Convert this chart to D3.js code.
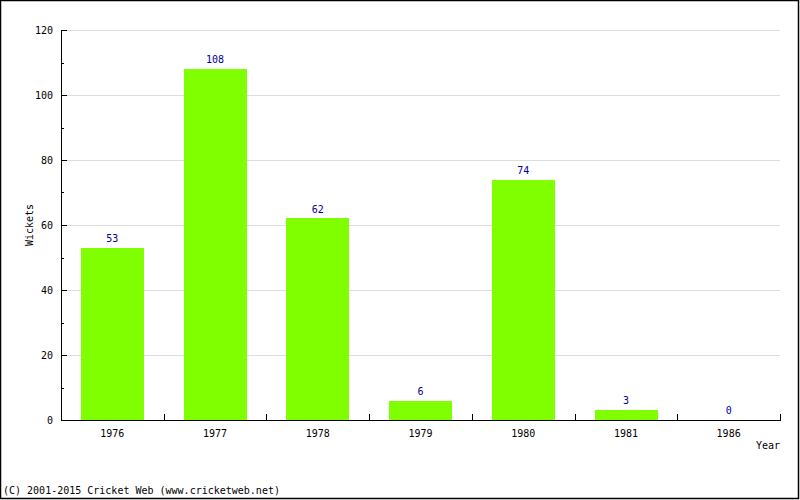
<!DOCTYPE html>
<html>
<head>
<meta charset="utf-8">
<script src="https://cdn.jsdelivr.net/npm/d3@7"></script>
<style>
  html, body { margin: 0; padding: 0; background: #fff; }
  svg text { font-family: "DejaVu Sans Mono", monospace; font-size: 10px; }
</style>
</head>
<body>
<svg id="chart" width="800" height="500"></svg>
<script>
const categories = ["1976", "1977", "1978", "1979", "1980", "1981", "1986"];
const wickets = [53, 108, 62, 6, 74, 3, 0];
const yTicks = [0, 20, 40, 60, 80, 100, 120];
const yMinorTicks = [10, 30, 50, 70, 90, 110];
const xTitle = "Year";
const yTitle = "Wickets";
const footer = "(C) 2001-2015 Cricket Web (www.cricketweb.net)";

const svg = d3.select("#chart");
const pLeft = 61, pRight = 780, pTop = 30, pBottom = 420;

svg.append("rect").attr("x", 0).attr("y", 0).attr("width", 800).attr("height", 500).attr("fill", "#fff");

const x = d3.scaleBand().domain(categories).range([pLeft, pRight]).paddingInner(0.39).paddingOuter(0.195);
const y = d3.scaleLinear().domain([0, 120]).range([pBottom, pTop]);

// gridlines
svg.append("g").selectAll("line").data(yTicks.filter(d => d > 0)).join("line")
  .attr("x1", pLeft).attr("x2", pRight)
  .attr("y1", d => Math.round(y(d)) + 0.5).attr("y2", d => Math.round(y(d)) + 0.5)
  .attr("stroke", "#dddddd").attr("stroke-width", 1);

// bars
svg.append("g").selectAll("rect").data(wickets).join("rect")
  .attr("x", (d, i) => Math.round(x(categories[i])))
  .attr("y", d => Math.round(y(d)))
  .attr("width", Math.round(x.bandwidth()))
  .attr("height", d => Math.round(y(0)) - Math.round(y(d)))
  .attr("fill", "#7fff00");

// value labels
svg.append("g").selectAll("text").data(wickets).join("text")
  .attr("x", (d, i) => x(categories[i]) + x.bandwidth() / 2)
  .attr("y", d => y(d) - 6)
  .attr("text-anchor", "middle")
  .attr("fill", "#000099")
  .text(d => d);

// y axis
const yAxis = svg.append("g");
yAxis.append("line").attr("x1", pLeft + 0.5).attr("x2", pLeft + 0.5).attr("y1", pTop).attr("y2", pBottom + 1)
  .attr("stroke", "#000");
yAxis.selectAll("line.major").data(yTicks).join("line").attr("class", "major")
  .attr("x1", pLeft).attr("x2", pLeft + 6)
  .attr("y1", d => Math.round(y(d)) + 0.5).attr("y2", d => Math.round(y(d)) + 0.5)
  .attr("stroke", "#000");
yAxis.selectAll("line.minor").data(yMinorTicks).join("line").attr("class", "minor")
  .attr("x1", pLeft).attr("x2", pLeft + 3)
  .attr("y1", d => Math.round(y(d)) + 0.5).attr("y2", d => Math.round(y(d)) + 0.5)
  .attr("stroke", "#000");
yAxis.selectAll("text").data(yTicks).join("text")
  .attr("x", 53).attr("y", d => y(d) + 4)
  .attr("text-anchor", "end").attr("fill", "#000")
  .text(d => d);

// x axis
const xAxis = svg.append("g");
xAxis.append("line").attr("x1", pLeft).attr("x2", pRight + 1).attr("y1", pBottom + 0.5).attr("y2", pBottom + 0.5)
  .attr("stroke", "#000");
const bounds = categories.map((c, i) => pLeft + x.step() * (i + 1));
xAxis.selectAll("line.tick").data(bounds).join("line").attr("class", "tick")
  .attr("x1", d => Math.round(d) + 0.5).attr("x2", d => Math.round(d) + 0.5)
  .attr("y1", pBottom - 6).attr("y2", pBottom)
  .attr("stroke", "#000");
xAxis.selectAll("text").data(categories).join("text")
  .attr("x", d => x(d) + x.bandwidth() / 2).attr("y", 437)
  .attr("text-anchor", "middle").attr("fill", "#000")
  .text(d => d);

// titles
svg.append("text").attr("x", 780).attr("y", 449).attr("text-anchor", "end").text(xTitle);
svg.append("text").attr("transform", "translate(33," + ((pTop + pBottom) / 2) + ") rotate(-90)")
  .attr("text-anchor", "middle").text(yTitle);
svg.append("text").attr("x", 3).attr("y", 494).text(footer);

// border
svg.append("rect").attr("x", 0.5).attr("y", 0.5).attr("width", 798).attr("height", 498)
  .attr("fill", "none").attr("stroke", "#000").attr("stroke-width", 1.5);
</script>
</body>
</html>
